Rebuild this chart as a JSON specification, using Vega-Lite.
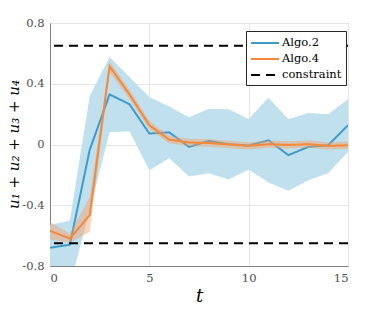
{
  "$schema": "https://vega.github.io/schema/vega-lite/v6.json",
  "width": 298,
  "height": 243,
  "autosize": {"type": "none"},
  "padding": {"left": 50, "top": 23, "right": 36, "bottom": 43},
  "config": {
    "font": "DejaVu Serif",
    "view": {"stroke": "#808080", "strokeWidth": 1},
    "axis": {
      "labelFont": "DejaVu Serif",
      "labelFontSize": 11.5,
      "labelColor": "#4d4d4d",
      "domainColor": "#808080",
      "gridColor": "#e6e6e6",
      "ticks": false,
      "titleFont": "DejaVu Serif",
      "titleFontWeight": "normal",
      "titleColor": "#000000"
    }
  },
  "datasets": {
    "algo": [
      {"series": "Algo.2", "t": 0, "y": -0.68, "lo": -0.92, "hi": -0.53},
      {"series": "Algo.2", "t": 1, "y": -0.66, "lo": -0.93, "hi": -0.50},
      {"series": "Algo.2", "t": 2, "y": -0.035, "lo": -0.43, "hi": 0.32},
      {"series": "Algo.2", "t": 3, "y": 0.33, "lo": 0.08, "hi": 0.576},
      {"series": "Algo.2", "t": 4, "y": 0.265, "lo": 0.087, "hi": 0.445},
      {"series": "Algo.2", "t": 5, "y": 0.072, "lo": -0.17, "hi": 0.313},
      {"series": "Algo.2", "t": 6, "y": 0.08, "lo": -0.09, "hi": 0.25},
      {"series": "Algo.2", "t": 7, "y": -0.016, "lo": -0.21, "hi": 0.18},
      {"series": "Algo.2", "t": 8, "y": 0.024, "lo": -0.19, "hi": 0.236},
      {"series": "Algo.2", "t": 9, "y": 0.002, "lo": -0.23, "hi": 0.232},
      {"series": "Algo.2", "t": 10, "y": -0.007, "lo": -0.165, "hi": 0.168},
      {"series": "Algo.2", "t": 11, "y": 0.028, "lo": -0.25, "hi": 0.307},
      {"series": "Algo.2", "t": 12, "y": -0.07, "lo": -0.305, "hi": 0.166},
      {"series": "Algo.2", "t": 13, "y": -0.016, "lo": -0.235, "hi": 0.208},
      {"series": "Algo.2", "t": 14, "y": -0.005, "lo": -0.19, "hi": 0.2},
      {"series": "Algo.2", "t": 15, "y": 0.127, "lo": -0.05, "hi": 0.298},
      {"series": "Algo.4", "t": 0, "y": -0.568, "lo": -0.625, "hi": -0.51},
      {"series": "Algo.4", "t": 1, "y": -0.619, "lo": -0.647, "hi": -0.586},
      {"series": "Algo.4", "t": 2, "y": -0.465, "lo": -0.575, "hi": -0.345},
      {"series": "Algo.4", "t": 3, "y": 0.515, "lo": 0.478, "hi": 0.548},
      {"series": "Algo.4", "t": 4, "y": 0.33, "lo": 0.3, "hi": 0.36},
      {"series": "Algo.4", "t": 5, "y": 0.127, "lo": 0.1, "hi": 0.155},
      {"series": "Algo.4", "t": 6, "y": 0.032, "lo": 0.008, "hi": 0.058},
      {"series": "Algo.4", "t": 7, "y": 0.013, "lo": -0.012, "hi": 0.038},
      {"series": "Algo.4", "t": 8, "y": 0.01, "lo": -0.015, "hi": 0.035},
      {"series": "Algo.4", "t": 9, "y": 0.0, "lo": -0.024, "hi": 0.024},
      {"series": "Algo.4", "t": 10, "y": -0.009, "lo": -0.033, "hi": 0.015},
      {"series": "Algo.4", "t": 11, "y": 0.002, "lo": -0.022, "hi": 0.026},
      {"series": "Algo.4", "t": 12, "y": -0.003, "lo": -0.027, "hi": 0.021},
      {"series": "Algo.4", "t": 13, "y": 0.002, "lo": -0.022, "hi": 0.026},
      {"series": "Algo.4", "t": 14, "y": -0.009, "lo": -0.033, "hi": 0.015},
      {"series": "Algo.4", "t": 15, "y": -0.005, "lo": -0.029, "hi": 0.019}
    ],
    "constraint": [
      {"series": "constraint", "y": 0.65},
      {"series": "constraint", "y": -0.65}
    ]
  },
  "data": {"name": "algo"},
  "encoding": {
    "x": {
      "field": "t", "type": "quantitative",
      "scale": {"domain": [0, 15], "nice": false, "zero": false},
      "axis": {"values": [0, 5, 10, 15], "title": "t", "titleFontStyle": "italic", "titleFontSize": 18, "titlePadding": 4, "labelPadding": 6, "grid": true}
    }
  },
  "layer": [
    {
      "transform": [{"filter": "datum.series == 'Algo.2'"}],
      "mark": {"type": "area", "fill": "#bfe0ec", "opacity": 1, "clip": true},
      "encoding": {
        "y": {
          "field": "lo", "type": "quantitative",
          "scale": {"domain": [-0.8, 0.8], "nice": false, "zero": false},
          "axis": {
            "values": [-0.8, -0.4, 0, 0.4, 0.8],
            "labelExpr": "datum.value == 0 ? '0' : (datum.value < 0 ? '-' : '') + format(abs(datum.value), '.1f')",
            "title": "u₁ + u₂ + u₃ + u₄",
            "titleFontStyle": "italic",
            "titleFontSize": 15,
            "titleX": -37,
            "titleY": 121,
            "titleBaseline": "middle",
            "titleAlign": "center",
            "titleAngle": 270,
            "labelPadding": 6,
            "grid": true
          }
        },
        "y2": {"field": "hi"}
      }
    },
    {
      "transform": [{"filter": "datum.series == 'Algo.2'"}],
      "mark": {"type": "line", "strokeWidth": 2, "clip": true},
      "encoding": {
        "y": {"field": "y", "type": "quantitative"},
        "color": {"field": "series", "type": "nominal"},
        "strokeDash": {"field": "series", "type": "nominal"}
      }
    },
    {
      "transform": [{"filter": "datum.series == 'Algo.4'"}],
      "mark": {"type": "area", "fill": "#f5a067", "opacity": 0.45, "clip": true},
      "encoding": {
        "y": {"field": "lo", "type": "quantitative"},
        "y2": {"field": "hi"}
      }
    },
    {
      "transform": [{"filter": "datum.series == 'Algo.4'"}],
      "mark": {"type": "line", "strokeWidth": 2, "clip": true},
      "encoding": {
        "y": {"field": "y", "type": "quantitative"},
        "color": {"field": "series", "type": "nominal"},
        "strokeDash": {"field": "series", "type": "nominal"}
      }
    },
    {
      "data": {"name": "constraint"},
      "mark": {"type": "rule", "strokeWidth": 2},
      "encoding": {
        "x": null,
        "y": {"field": "y", "type": "quantitative"},
        "color": {
          "field": "series", "type": "nominal",
          "scale": {"domain": ["Algo.2", "Algo.4", "constraint"], "range": ["#3d9bcb", "#f5893a", "#000000"]},
          "legend": {
            "title": null,
            "orient": "none",
            "legendX": 196,
            "legendY": 8,
            "symbolType": "M-2,0H2",
            "symbolSize": 196,
            "symbolOffset": 7,
            "symbolStrokeWidth": 2,
            "labelFont": "DejaVu Serif",
            "labelFontSize": 11.5,
            "labelColor": "#000000",
            "labelOffset": 9,
            "rowPadding": 2,
            "padding": 4,
            "strokeColor": "#262626",
            "fillColor": "#ffffff"
          }
        },
        "strokeDash": {
          "field": "series", "type": "nominal",
          "scale": {"domain": ["Algo.2", "Algo.4", "constraint"], "range": [[1, 0], [1, 0], [9, 6]]},
          "legend": {
            "title": null,
            "orient": "none",
            "legendX": 196,
            "legendY": 8,
            "symbolType": "M-2,0H2",
            "symbolSize": 196,
            "symbolOffset": 7,
            "symbolStrokeWidth": 2,
            "labelFont": "DejaVu Serif",
            "labelFontSize": 11.5,
            "labelColor": "#000000",
            "labelOffset": 9,
            "rowPadding": 2,
            "padding": 4,
            "strokeColor": "#262626",
            "fillColor": "#ffffff"
          }
        }
      }
    }
  ]
}
